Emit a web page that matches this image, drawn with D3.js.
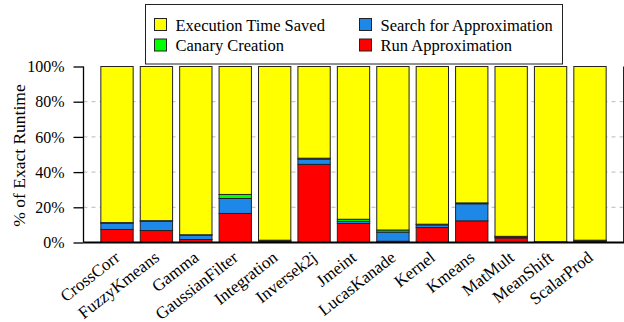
<!DOCTYPE html>
<html>
<head>
<meta charset="utf-8">
<script src="https://cdn.jsdelivr.net/npm/d3@7"></script>
<style>
  body { margin: 0; background: #fff; }
  svg { font-family: "Liberation Serif", "DejaVu Serif", serif; }
</style>
</head>
<body>
<div id="chart"></div>
<script>
// ---- data ----
var benchmarks = ["CrossCorr", "FuzzyKmeans", "Gamma", "GaussianFilter", "Integration",
  "Inversek2j", "Jmeint", "LucasKanade", "Kernel", "Kmeans", "MatMult", "MeanShift", "ScalarProd"];
var runApprox    = [7.4, 6.8, 1.7, 16.5, 0.5, 44.4, 10.8, 0.7, 8.5, 12.3, 2.6, 0.2, 0.4];
var searchApprox = [3.6, 5.3, 2.5,  8.5, 0.5,  3.0,  1.2, 5.2, 1.5,  9.7, 0.5, 0.1, 0.6];
var canary       = [0.3, 0.3, 0.2,  2.3, 0.3,  0.5,  1.2, 1.2, 0.4,  0.5, 0.4, 0.1, 0.3];
var yTicks = [0, 20, 40, 60, 80, 100];

var seriesNames = ["Run Approximation", "Search for Approximation", "Canary Creation", "Execution Time Saved"];
var colors = ["#ff0000", "#1e88e8", "#00ff00", "#ffff00"];

var rows = benchmarks.map(function(b, i) {
  var saved = 100 - runApprox[i] - searchApprox[i] - canary[i];
  return {name: b, "Run Approximation": runApprox[i], "Search for Approximation": searchApprox[i],
          "Canary Creation": canary[i], "Execution Time Saved": saved};
});

var width = 624, height = 322;
var plotLeft = 83.5, plotRight = 623.5, plotTop = 66.5, plotBottom = 242.5;

var svg = d3.select("#chart").append("svg")
    .attr("width", width)
    .attr("height", height);

var x = d3.scaleBand()
    .domain(benchmarks)
    .range([plotLeft, plotRight])
    .paddingInner(0.18)
    .paddingOuter(0.44);

var y = d3.scaleLinear()
    .domain([0, 100])
    .range([plotBottom, plotTop]);

// grid
svg.append("g").selectAll("line")
    .data(yTicks.filter(function(d) { return d > 0 && d < 100; }))
  .enter().append("line")
    .attr("x1", plotLeft).attr("x2", plotRight)
    .attr("y1", function(d) { return y(d); })
    .attr("y2", function(d) { return y(d); })
    .style("stroke", "#bbb")
    .style("stroke-width", "1px")
    .style("stroke-dasharray", "4,4");

// stacked bars
var stack = d3.stack().keys(seriesNames)(rows);

svg.append("g").selectAll("g")
    .data(stack)
  .enter().append("g")
    .style("fill", function(d, i) { return colors[i]; })
  .selectAll("rect")
    .data(function(d) { return d; })
  .enter().append("rect")
    .attr("x", function(d) { return x(d.data.name); })
    .attr("width", x.bandwidth())
    .attr("y", function(d) { return y(d[1]); })
    .attr("height", function(d) { return y(d[0]) - y(d[1]); })
    .style("stroke", "#222")
    .style("stroke-width", "1px");

// frame
svg.append("line")
    .attr("x1", plotRight).attr("x2", plotRight).attr("y1", plotTop).attr("y2", plotBottom)
    .style("stroke", "#222").style("stroke-width", "1px");

// y axis
var yAxis = d3.axisLeft(y)
    .tickValues(yTicks)
    .tickSize(10)
    .tickPadding(9)
    .tickFormat(function(d) { return d + "%"; });

var ya = svg.append("g")
    .attr("transform", "translate(" + plotLeft + ",0)")
    .call(yAxis);
ya.select(".domain").style("stroke", "#000").style("stroke-width", "1.3px")
    .attr("d", "M0," + plotTop + "V" + plotBottom);
ya.selectAll("line").style("stroke", "#000").style("stroke-width", "1.3px");
ya.selectAll("text")
    .style("font-family", "Liberation Serif, serif")
    .style("font-size", "16px")
    .style("fill", "#000");

// x axis
svg.append("line")
    .attr("x1", plotLeft).attr("x2", plotRight + 0.5)
    .attr("y1", plotBottom).attr("y2", plotBottom)
    .style("stroke", "#000").style("stroke-width", "2px");

svg.append("g").selectAll("text")
    .data(benchmarks)
  .enter().append("text")
    .attr("transform", function(d) {
      return "translate(" + (x(d) + x.bandwidth() / 2 + 4) + "," + (plotBottom + 17) + ") rotate(-38)";
    })
    .style("text-anchor", "end")
    .style("font-size", "17px")
    .text(function(d) { return d; });

// y label
svg.append("text")
    .attr("transform", "translate(25," + ((plotTop + plotBottom) / 2 + 1) + ") rotate(-90)")
    .style("text-anchor", "middle")
    .style("font-size", "17.5px")
    .text("% of Exact Runtime");

// legend
var legend = svg.append("g");
legend.append("rect")
    .attr("x", 145.5).attr("y", 4.5)
    .attr("width", 417).attr("height", 59.5)
    .style("fill", "#fff")
    .style("stroke", "#222")
    .style("stroke-width", "1px");

var legendItems = [
  {name: "Execution Time Saved", color: colors[3], col: 0, row: 0},
  {name: "Search for Approximation", color: colors[1], col: 1, row: 0},
  {name: "Canary Creation", color: colors[2], col: 0, row: 1},
  {name: "Run Approximation", color: colors[0], col: 1, row: 1}
];

var li = legend.selectAll(".item")
    .data(legendItems)
  .enter().append("g")
    .attr("transform", function(d) {
      return "translate(" + (d.col ? 359.5 : 154.5) + "," + (d.row ? 45 : 24.5) + ")";
    });
li.append("rect")
    .attr("x", 0).attr("y", -6)
    .attr("width", 12).attr("height", 12)
    .style("fill", function(d) { return d.color; })
    .style("stroke", "#222")
    .style("stroke-width", "1px");
li.append("text")
    .attr("x", 21).attr("y", 6)
    .style("font-size", "16.5px")
    .text(function(d) { return d.name; });
</script>
</body>
</html>
